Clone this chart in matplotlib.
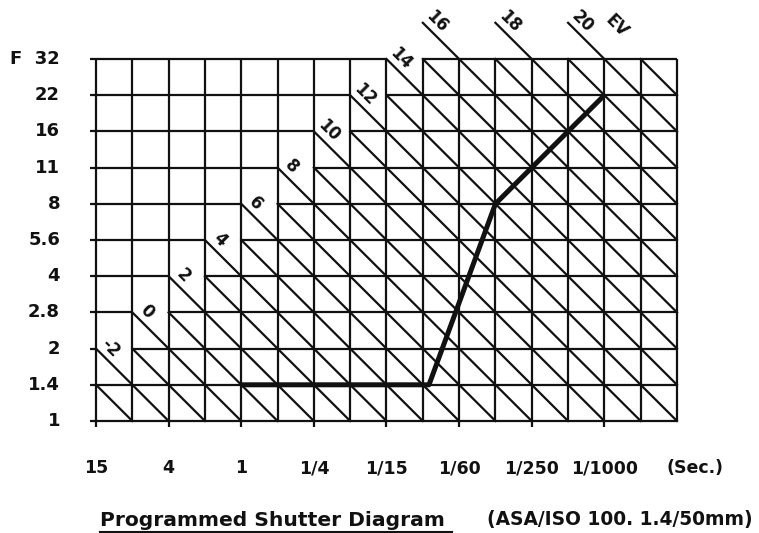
import numpy as np
import matplotlib.pyplot as plt
from matplotlib.lines import Line2D

# --- DATA ---
f_labels = ["1", "1.4", "2", "2.8", "4", "5.6", "8", "11", "16", "22", "F  32"]
shutter_labels = ["15", "4", "1", "1/4", "1/15", "1/60", "1/250", "1/1000"]
shutter_cols = [0, 2, 4, 6, 8, 10, 12, 14]
ev_labels = [-2, 0, 2, 4, 6, 8, 10, 12, 14, 16, 18, 20]
ev_lines = list(range(-3, 22))

# programmed line: Tv (stops from 1 s) vs Av (stops from f/1)
prog_tv = [0, 5.17, 7.0, 10.0]
prog_av = [1, 1, 6, 9]

N_COLS = 16    # shutter stops, 15 s sits at column 0
N_ROWS = 10    # aperture stops, f/1 sits at row 0
TV0 = -4       # Tv of the first column (15 s)

INK = "#111111"
LW = 1.6


# --- EV line start on the staircase ---
def ev_start(e):
    if e % 2 == 0:
        c0 = (e + 2) // 2
        r0 = min(c0 + 2, N_ROWS + 1)
    else:
        c0 = (e + 3) // 2
        r0 = min(c0 + 1, N_ROWS)
    return e - TV0 - r0, r0


def ev_end(e):
    c1 = min(N_COLS, e - TV0)
    return c1, e - TV0 - c1


# --- Plotting ---
fig = plt.figure(figsize=(7.59, 5.33), dpi=100)
ax = fig.add_axes([96 / 759, 1 - 421 / 533, 581 / 759, 362 / 533])
ax.set_xlim(0, N_COLS)
ax.set_ylim(0, N_ROWS)
ax.axis("off")

# gaps in horizontal lines where the EV numbers sit
gaps = {}
for e in ev_labels:
    c0, r0 = ev_start(e)
    if r0 <= N_ROWS:
        gaps[r0] = c0

# horizontal lines
for r in range(N_ROWS + 1):
    if r in gaps:
        g = gaps[r]
        segs = [(-0.17, g), (g + 1, N_COLS)]
    else:
        segs = [(-0.17, N_COLS)]
    for a, b in segs:
        if b > a:
            ax.plot([a, b], [r, r], color=INK, lw=LW, clip_on=False,
                    solid_capstyle="butt")

# vertical lines (tick columns poke below the frame)
for c in range(N_COLS + 1):
    low = -0.17 if c in shutter_cols else 0
    ax.plot([c, c], [low, N_ROWS], color=INK, lw=LW, clip_on=False,
            solid_capstyle="butt")

# EV diagonals
for e in ev_lines:
    c0, r0 = ev_start(e)
    c1, r1 = ev_end(e)
    ax.plot([c0, c1], [r0, r1], color=INK, lw=LW, clip_on=False)

# EV numbers
for e in ev_labels:
    c0, r0 = ev_start(e)
    ax.text(c0 + 0.4, r0 + 0.02, str(e), rotation=-45, ha="center",
            va="center", fontsize=12, fontweight="bold", color=INK,
            rotation_mode="anchor")
ax.text(14.33, 10.91, "EV", rotation=-45, ha="center", va="center",
        fontsize=12, fontweight="bold", color=INK, rotation_mode="anchor")

# programmed shutter line
prog_c = [tv - TV0 for tv in prog_tv]
ax.plot(prog_c, prog_av, color=INK, lw=3.6, solid_joinstyle="round",
        solid_capstyle="butt", clip_on=False)

# aperture labels
for r, lab in enumerate(f_labels):
    ax.text(-0.99, r, lab, ha="right", va="center", fontsize=13,
            fontweight="bold", color=INK)

# shutter labels
for c, lab in zip(shutter_cols, shutter_labels):
    ax.text(c, -1.3, lab, ha="center", va="center", fontsize=12.5,
            fontweight="bold", color=INK)
ax.text(16.5, -1.3, "(Sec.)", ha="center", va="center", fontsize=12.5,
        fontweight="bold", color=INK)

# caption
fig.text(100 / 759, 1 - 520 / 533, "Programmed Shutter Diagram", ha="left",
         va="center", fontsize=14.6, fontweight="bold", color=INK)
fig.add_artist(Line2D([100 / 759, 452 / 759], [1 - 532 / 533, 1 - 532 / 533],
                      color=INK, lw=1.5))
fig.text(753 / 759, 1 - 520 / 533, "(ASA/ISO 100. 1.4/50mm)", ha="right",
         va="center", fontsize=13.4, fontweight="bold", color=INK)

fig.savefig("out.png", dpi=100, facecolor="white")
